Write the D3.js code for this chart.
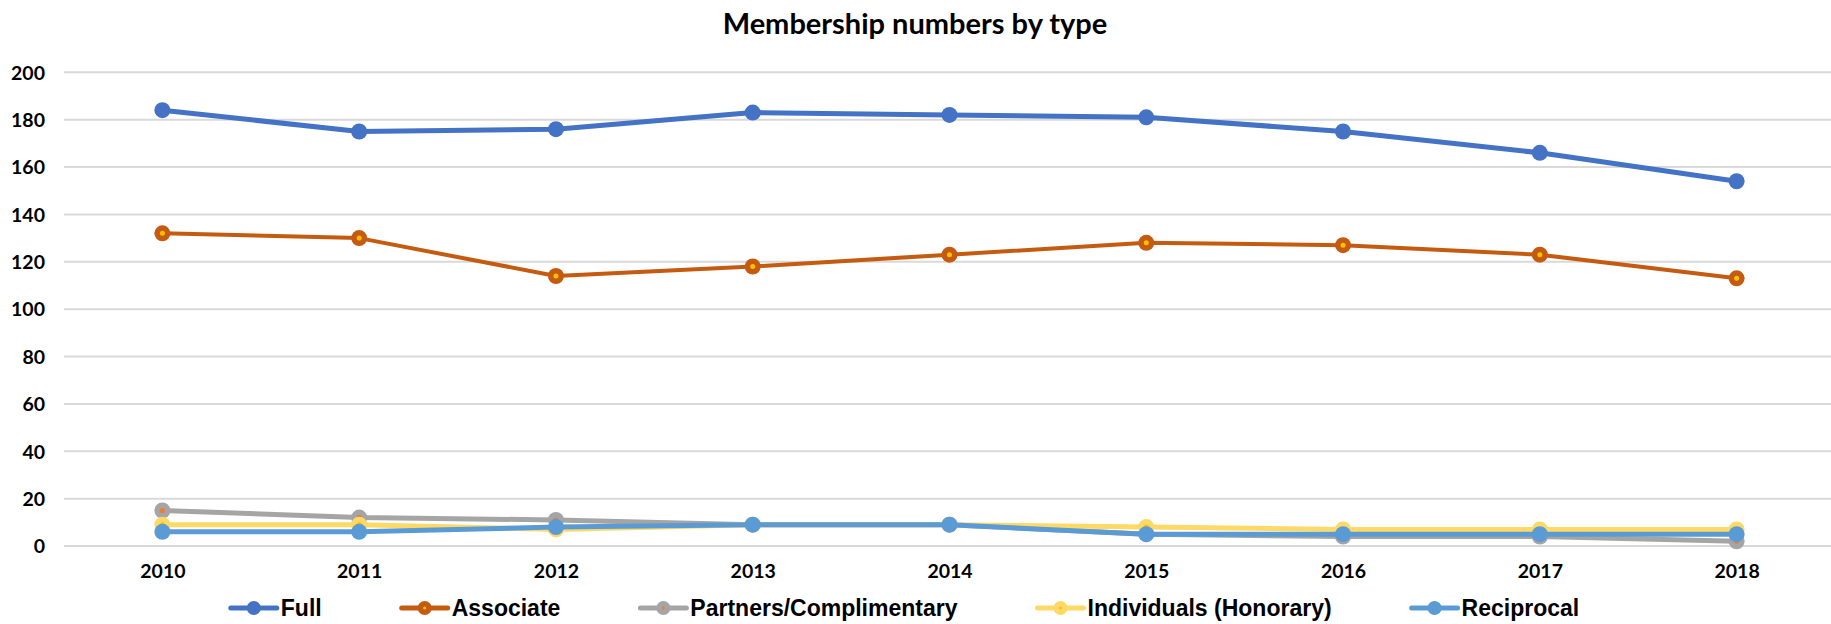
<!DOCTYPE html>
<html>
<head>
<meta charset="utf-8">
<script src="https://cdn.jsdelivr.net/npm/d3@7"></script>
<style>
  html, body { margin: 0; padding: 0; background: #fff; }
  svg { display: block; }
</style>
</head>
<body>
<svg id="chart" width="1831" height="624"></svg>
<script>
// ---- data ----
const years = ["2010","2011","2012","2013","2014","2015","2016","2017","2018"];
const seriesNames = ["Full","Associate","Partners/Complimentary","Individuals (Honorary)","Reciprocal"];
const fullValues = [184, 175, 176, 183, 182, 181, 175, 166, 154];
const associateValues = [132, 130, 114, 118, 123, 128, 127, 123, 113];
const partnersValues = [15, 12, 11, 9, 9, 5, 4, 4, 2];
const individualsValues = [9, 9, 7, 9, 9, 8, 7, 7, 7];
const reciprocalValues = [6, 6, 8, 9, 9, 5, 5, 5, 5];
const yTicks = [0, 20, 40, 60, 80, 100, 120, 140, 160, 180, 200];
const titleText = "Membership numbers by type";

// ---- styles (kept separate from data) ----
const styles = [
  { color: "#4472c4", width: 5, r: 8, inner: null },
  { color: "#c55a11", width: 4, r: 8, inner: "#ffc000" },
  { color: "#a5a5a5", width: 5, r: 8, inner: "#ed7d31" },
  { color: "#ffd966", width: 5, r: 8, inner: "#ffc000" },
  { color: "#5b9bd5", width: 5, r: 8, inner: null }
];
const allValues = [fullValues, associateValues, partnersValues, individualsValues, reciprocalValues];
const series = seriesNames.map((name, i) => ({ name, values: allValues[i], style: styles[i] }));

const svg = d3.select("#chart");
const W = 1831, H = 624;
const plot = { left: 64, right: 1835, top: 72.3, bottom: 546 };

const x = d3.scalePoint().domain(years).range([plot.left, plot.right]).padding(0.5);
const y = d3.scaleLinear().domain([0, 200]).range([plot.bottom, plot.top]);

// gridlines
svg.append("g").selectAll("line").data(yTicks).join("line")
  .attr("x1", plot.left).attr("x2", Math.min(plot.right, W))
  .attr("y1", d => y(d)).attr("y2", d => y(d))
  .attr("stroke", "#d9d9d9").attr("stroke-width", 2);

// y axis
const yAxis = d3.axisLeft(y).tickValues(yTicks).tickSize(0).tickPadding(0);
const yg = svg.append("g").attr("transform", `translate(${plot.left - 19},0)`).call(yAxis);
yg.select(".domain").remove();
yg.selectAll("text")
  .attr("font-family", "Lato, 'Open Sans', sans-serif")
  .attr("font-weight", "bold").attr("font-size", 19.5).attr("fill", "#000")
  .attr("dy", "0.35em");

// x axis
const xAxis = d3.axisBottom(x).tickSize(0).tickPadding(0);
const xg = svg.append("g").attr("transform", `translate(0,${plot.bottom + 25})`).call(xAxis);
xg.select(".domain").remove();
xg.selectAll("text")
  .attr("font-family", "Lato, 'Open Sans', sans-serif")
  .attr("font-weight", "bold").attr("font-size", 19.5).attr("fill", "#000")
  .attr("y", 0).attr("dy", "0.35em");

// title
svg.append("text")
  .attr("x", 915).attr("y", 24).attr("dy", "0.35em")
  .attr("text-anchor", "middle")
  .attr("font-family", "Lato, 'Open Sans', sans-serif")
  .attr("font-weight", "bold").attr("font-size", 29).attr("fill", "#000")
  .text(titleText);

// lines + markers
const line = d3.line().x((d, i) => x(years[i])).y(d => y(d));
series.forEach(s => {
  const g = svg.append("g");
  g.append("path").datum(s.values)
    .attr("d", line).attr("fill", "none")
    .attr("stroke", s.style.color).attr("stroke-width", s.style.width)
    .attr("stroke-linejoin", "round");
  g.selectAll("circle.m").data(s.values).join("circle").attr("class", "m")
    .attr("cx", (d, i) => x(years[i])).attr("cy", d => y(d))
    .attr("r", s.style.r).attr("fill", s.style.color);
  if (s.style.inner) {
    g.selectAll("circle.in").data(s.values).join("circle").attr("class", "in")
      .attr("cx", (d, i) => x(years[i])).attr("cy", d => y(d))
      .attr("r", 2.5).attr("fill", s.style.inner);
  }
});

// legend
const legendY = 608;
const symW = 46, symGap = 4, itemGap = 80;
const lg = svg.append("g");
let cursor = 0;
series.forEach(s => {
  const it = lg.append("g");
  it.append("line").attr("x1", 0).attr("x2", symW).attr("y1", 0).attr("y2", 0)
    .attr("stroke", s.style.color).attr("stroke-width", 5).attr("stroke-linecap", "round");
  it.append("circle").attr("cx", symW / 2).attr("cy", 0).attr("r", 7).attr("fill", s.style.color);
  if (s.style.inner) it.append("circle").attr("cx", symW / 2).attr("cy", 0).attr("r", 1.5).attr("fill", s.style.inner);
  const t = it.append("text").attr("x", symW + symGap).attr("y", 0).attr("dy", "0.35em")
    .attr("font-family", "'Liberation Sans', Arial, sans-serif")
    .attr("font-weight", "bold").attr("font-size", 23).attr("fill", "#000")
    .text(s.name);
  const w = symW + symGap + t.node().getComputedTextLength();
  it.attr("transform", `translate(${cursor},${legendY})`);
  cursor += w + itemGap;
});
const totalW = cursor - itemGap;
lg.attr("transform", `translate(${905 - totalW / 2},0)`);
</script>
</body>
</html>
